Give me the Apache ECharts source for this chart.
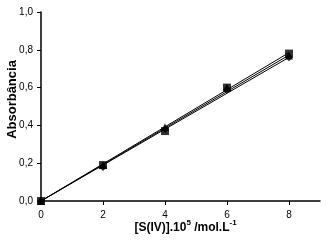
<!DOCTYPE html>
<html lang="pt">
<head>
    <meta charset="UTF-8">
    <title>Absorbância</title>
    <script src="https://cdn.jsdelivr.net/npm/echarts@6/dist/echarts.min.js"></script>
    <style>
        html, body { margin: 0; padding: 0; background: #fff; }
        #main { width: 327px; height: 243px; }
    </style>
</head>
<body>
<div id="main"></div>
<script type="text/javascript">
    // concentração [S(IV)].10^5 /mol.L-1
    var conc = [0, 2, 4, 6, 8];
    // absorbância das três séries
    var serieA = [0.00, 0.19, 0.37, 0.60, 0.78];
    var serieB = [0.00, 0.19, 0.39, 0.60, 0.77];
    var serieC = [0.00, 0.18, 0.38, 0.59, 0.76];
    // retas de tendência (pontos extremos)
    var retaA = [[0, 0.00], [8, 0.785]];
    var retaB = [[0, 0.00], [8, 0.772]];
    var retaC = [[0, 0.00], [8, 0.760]];
    var xTicks = [0, 2, 4, 6, 8];

    function pares(xs, ys) {
        var out = [];
        for (var i = 0; i < xs.length; i++) out.push([xs[i], ys[i]]);
        return out;
    }

    function reta(d) {
        return {
            type: 'line', data: d, symbol: 'none', silent: true,
            lineStyle: { color: '#000', width: 1 }, z: 2
        };
    }

    function pontos(d, simbolo, tam) {
        return {
            type: 'scatter', data: d, symbol: simbolo, symbolSize: tam,
            itemStyle: { color: '#000' }, z: 3
        };
    }

    var myChart = echarts.init(document.getElementById('main'));
    var option = {
        animation: false,
        grid: { left: 41, right: 7, top: 12, bottom: 42, containLabel: false, outerBoundsMode: 'none' },
        textStyle: { fontFamily: 'Liberation Sans, Arial, sans-serif' },
        xAxis: {
            type: 'value', min: 0, max: 9,
            name: '[S(IV)].10{s|5} /mol.L{s|-1}',
            nameLocation: 'middle', nameGap: 18, nameMoveOverlap: false,
            nameTextStyle: {
                color: '#000', fontWeight: 'bold', fontSize: 12,
                padding: [0, 0, 0, 10],
                rich: { s: { fontSize: 8, fontWeight: 'bold', verticalAlign: 'top', padding: [0, 0, 9, 0] } }
            },
            axisLine: { lineStyle: { color: '#000', width: 1.5 } },
            axisTick: { show: true, customValues: xTicks, length: 4, lineStyle: { color: '#000' } },
            axisLabel: { customValues: xTicks, color: '#000', fontSize: 10, margin: 9 },
            splitLine: { show: false }
        },
        yAxis: {
            type: 'value', min: 0, max: 1, interval: 0.2,
            name: 'Absorbância',
            nameLocation: 'middle', nameGap: 22, nameMoveOverlap: false,
            nameTextStyle: { color: '#000', fontWeight: 'bold', fontSize: 13, padding: [0, 0, 0, 14] },
            axisLine: { show: true, lineStyle: { color: '#000', width: 1.5 } },
            axisTick: { show: true, length: 4, lineStyle: { color: '#000' } },
            axisLabel: {
                color: '#000', fontSize: 10, margin: 8,
                formatter: function (v) { return v.toFixed(1).replace('.', ','); }
            },
            splitLine: { show: false }
        },
        series: [
            reta(retaA),
            reta(retaB),
            reta(retaC),
            pontos(pares(conc, serieC), 'diamond', 8),
            pontos(pares(conc, serieB), 'triangle', 8),
            pontos(pares(conc, serieA), 'rect', 8)
        ]
    };
    myChart.setOption(option);
</script>
</body>
</html>
